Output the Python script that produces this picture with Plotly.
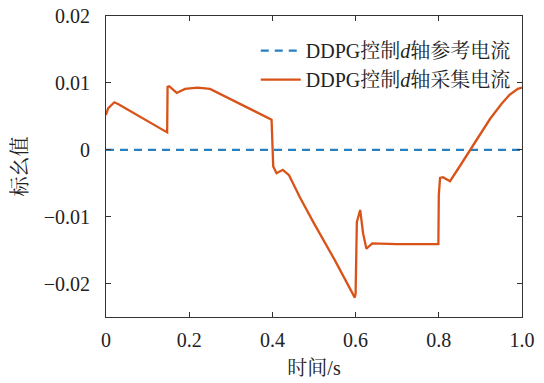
import plotly.graph_objects as go

# reference d-axis current (constant zero)
ref_t = [0.0, 1.0]
ref_v = [0.0, 0.0]

meas_t = [0.0, 0.005, 0.02, 0.03, 0.147, 0.148, 0.152, 0.17, 0.19, 0.22, 0.25, 0.397, 0.398,
          0.402, 0.41, 0.425, 0.44, 0.466, 0.50, 0.55, 0.598, 0.600, 0.603, 0.611, 0.618,
          0.626, 0.64, 0.70, 0.75, 0.799, 0.800, 0.803, 0.81, 0.827, 0.85, 0.875, 0.90,
          0.923, 0.95, 0.97, 0.99, 1.0]
meas_v = [0.0052, 0.0062, 0.0071, 0.0068, 0.0026, 0.0094, 0.0095, 0.0085, 0.0091, 0.0093,
          0.0091, 0.0046, 0.0045, -0.0025, -0.0035, -0.0030, -0.0038, -0.0071, -0.011,
          -0.0165, -0.0221, -0.0215, -0.0108, -0.0090, -0.0125, -0.0148, -0.0140, -0.0141,
          -0.0141, -0.0141, -0.0068, -0.0042, -0.0041, -0.0047, -0.0025, 0.0, 0.0023,
          0.0046, 0.0068, 0.0082, 0.0091, 0.0093]

x_ticks = [0, 0.2, 0.4, 0.6, 0.8, 1.0]
x_labels = ["0", "0.2", "0.4", "0.6", "0.8", "1.0"]
y_ticks = [-0.02, -0.01, 0, 0.01, 0.02]
y_labels = ["\u22120.02", "\u22120.01", "0", "0.01", "0.02"]

FONT = "Times New Roman, Liberation Serif, Noto Serif CJK SC, Noto Sans CJK SC, serif"
FS = 20

fig = go.Figure()
fig.add_trace(go.Scatter(x=ref_t, y=ref_v, mode="lines",
                         name="DDPG控制<i>d</i>轴参考电流",
                         line=dict(color="#2a7fc0", width=2.2, dash="8px,6px")))
fig.add_trace(go.Scatter(x=meas_t, y=meas_v, mode="lines",
                         name="DDPG控制<i>d</i>轴采集电流",
                         line=dict(color="#d95319", width=2.3)))

axis_common = dict(showline=True, linecolor="#333", linewidth=1, mirror="ticks",
                   ticks="inside", ticklen=5, tickcolor="#333", showgrid=False,
                   zeroline=False, automargin=False,
                   tickfont=dict(family=FONT, size=FS, color="#222"))

fig.update_layout(
    width=544, height=383,
    margin=dict(l=106, r=22, t=16, b=66),
    paper_bgcolor="white", plot_bgcolor="white",
    font=dict(family=FONT, size=FS, color="#222"),
    showlegend=True,
    legend=dict(x=0.985, y=0.95, xanchor="right", yanchor="top",
                bgcolor="rgba(0,0,0,0)", font=dict(family=FONT, size=FS, color="#222"),
                tracegroupgap=0, itemwidth=40),
    xaxis=dict(range=[0, 1.0], tickvals=x_ticks, ticktext=x_labels, ticklabelstandoff=5,
               title=dict(text="时间/s", standoff=10, font=dict(family=FONT, size=FS)),
               **axis_common),
    yaxis=dict(range=[-0.025, 0.02], tickvals=y_ticks, ticktext=y_labels, ticklabelstandoff=11,
               title=dict(text="标幺值", standoff=10, font=dict(family=FONT, size=FS)),
               **axis_common),
)

fig.write_html("out.html", config={"displayModeBar": False},
               post_script="document.body.style.margin='0px';")
